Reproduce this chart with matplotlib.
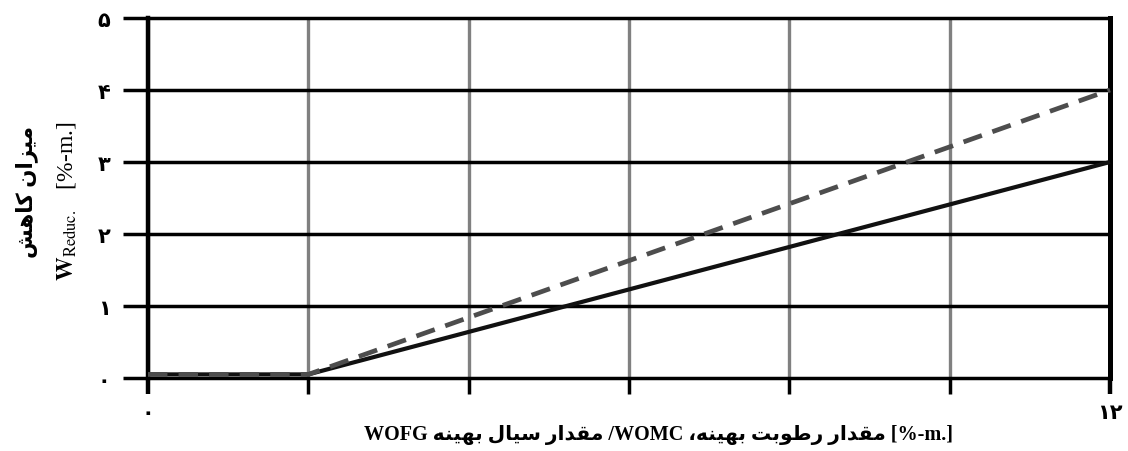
import matplotlib
matplotlib.use("Agg")
import matplotlib.pyplot as plt

# ---------------- data ----------------
x_solid = [0, 2, 12]
y_solid = [0.05, 0.05, 3.0]
x_dash = [0, 2, 12]
y_dash = [0.05, 0.05, 4.0]
y_ticks = [0, 1, 2, 3, 4, 5]
y_ticklabels = ["۰", "۱", "۲", "۳", "۴", "۵"]
x_ticks = [0, 2, 4, 6, 8, 10, 12]
x_ticklabels = ["۰", "", "", "", "", "", "۱۲"]
ylabel_fa = "میزان کاهش"
xlabel_fa_1 = "مقدار سیال بهینه"
xlabel_fa_2 = "مقدار رطوبت بهینه،"

# ------------- minimal Persian shaping (visual order) -------------
FORMS = {
    'ا': ('\uFE8D', '\uFE8E', None, None),
    'ب': ('\uFE8F', '\uFE90', '\uFE91', '\uFE92'),
    'ت': ('\uFE95', '\uFE96', '\uFE97', '\uFE98'),
    'د': ('\uFEA9', '\uFEAA', None, None),
    'ر': ('\uFEAD', '\uFEAE', None, None),
    'ز': ('\uFEAF', '\uFEB0', None, None),
    'س': ('\uFEB1', '\uFEB2', '\uFEB3', '\uFEB4'),
    'ش': ('\uFEB5', '\uFEB6', '\uFEB7', '\uFEB8'),
    'ط': ('\uFEC1', '\uFEC2', '\uFEC3', '\uFEC4'),
    'ق': ('\uFED5', '\uFED6', '\uFED7', '\uFED8'),
    'ل': ('\uFEDD', '\uFEDE', '\uFEDF', '\uFEE0'),
    'م': ('\uFEE1', '\uFEE2', '\uFEE3', '\uFEE4'),
    'ن': ('\uFEE5', '\uFEE6', '\uFEE7', '\uFEE8'),
    'ه': ('\uFEE9', '\uFEEA', '\uFEEB', '\uFEEC'),
    'و': ('\uFEED', '\uFEEE', None, None),
    'ک': ('\uFB8E', '\uFB8F', '\uFB90', '\uFB91'),
    'ی': ('\uFBFC', '\uFBFD', '\uFBFE', '\uFBFF'),
}


def dual(c):
    return c in FORMS and FORMS[c][2] is not None


def shape_word(w):
    out = []
    for i, c in enumerate(w):
        if c not in FORMS:
            out.append(c)
            continue
        prev = w[i - 1] if i > 0 else None
        nxt = w[i + 1] if i + 1 < len(w) else None
        cp = prev is not None and dual(prev)
        cn = dual(c) and nxt is not None and nxt in FORMS
        iso, fin, ini, med = FORMS[c]
        if cp and cn:
            out.append(med)
        elif cp:
            out.append(fin)
        elif cn:
            out.append(ini)
        else:
            out.append(iso)
    return "".join(reversed(out))


def vis(phrase):
    return " ".join(shape_word(w) for w in reversed(phrase.split()))


plt.rcParams['lines.scale_dashes'] = False
plt.rcParams['mathtext.fontset'] = 'stix'
FAM = ['Liberation Serif', 'DejaVu Sans']

fig = plt.figure(figsize=(11.28, 4.52), dpi=100)
ax = fig.add_axes([148 / 1128, 1 - 379 / 452, (1110 - 148) / 1128, (379 - 19) / 452])
ax.set_xlim(0, 12)
ax.set_ylim(0, 5)

for s in ['top', 'bottom']:
    ax.spines[s].set_visible(False)
ax.spines['left'].set_linewidth(3.2)
ax.spines['left'].set_color('black')
ax.spines['right'].set_linewidth(3.6)
ax.spines['right'].set_color('black')

ax.set_yticks(y_ticks)
ax.set_yticklabels(y_ticklabels, family=['DejaVu Sans'], fontsize=15, fontweight='bold')
ax.set_xticks(x_ticks)
ax.set_xticklabels(x_ticklabels, family=['DejaVu Sans'], fontsize=15, fontweight='bold')
ax.tick_params(axis='y', direction='out', length=18, width=2.5, color='black', pad=9)
ax.tick_params(axis='x', direction='out', length=11.5, width=2.5, pad=6)
for i, t in enumerate(ax.xaxis.get_major_ticks()):
    if x_ticks[i] in (0, 12):
        t.tick1line.set_color('black')
        t.tick1line.set_markeredgewidth(3.2)
    else:
        t.tick1line.set_color('#7a7a7a')

ax.grid(axis='y', color='black', linewidth=2.5)
ax.grid(axis='x', color='#808080', linewidth=2.4)
for gl in ax.get_ygridlines():
    gl.set_clip_on(False)
ax.set_axisbelow(True)

ax.plot(x_solid, y_solid, color='#111111', linewidth=3.0, zorder=4, clip_on=False,
        solid_capstyle='butt')
ax.plot(x_dash, y_dash, color='#4d4d4d', linewidth=3.4, zorder=5, clip_on=False,
        dashes=(14, 8))

# x label (visual order, RTL)
xlabel = "WOFG " + vis(xlabel_fa_1) + " /WOMC " + vis(xlabel_fa_2) + " [%-m.]"
fig.text(659 / 1128, 1 - 435 / 452, xlabel, family=FAM, fontsize=14.5,
         fontweight='bold', ha='center', va='center')

# y labels
fig.text(27 / 1128, 1 - 192 / 452, vis(ylabel_fa), family=FAM, fontsize=15.5,
         fontweight='bold', rotation=90, ha='center', va='center')
fig.text(67 / 1128, 1 - 201 / 452, r"$\mathbf{W}_{\mathrm{Reduc.}}$   [%-m.]",
         family=FAM, fontsize=17, rotation=90, ha='center', va='center')

fig.savefig("out.png", dpi=100)
